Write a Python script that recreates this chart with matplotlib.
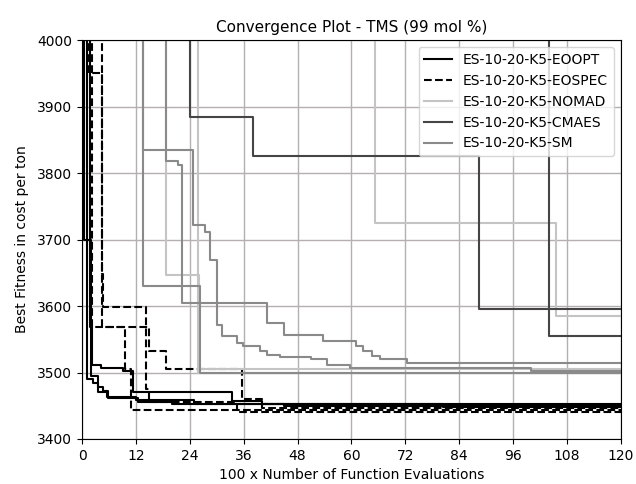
import matplotlib.pyplot as plt

# --- data (x in 100 x evaluations, y in cost per ton); 4100 = off the top ---
eoopt_x = [[0, 1.1, 2.4, 3.6, 4.7, 5.8, 12.5, 20, 80.5, 120],
           [0, 1.8, 2.2, 4.2, 9.1, 11.4, 33.4, 40, 120],
           [0, 0.4, 2.0, 3.5, 5.5, 12, 25, 45, 120]]
eoopt_y = [[4100, 3490, 3484, 3478, 3472, 3462, 3455, 3452, 3448, 3448],
           [4100, 3568, 3512, 3507, 3502, 3470, 3457, 3452, 3452],
           [4100, 3700, 3495, 3470, 3463, 3458, 3453, 3450, 3450]]

eospec_x = [[0, 1.6, 4.4, 4.7, 14.2, 15, 34.5, 120],
            [0, 2.2, 15, 18.7, 35.6, 40, 120],
            [0, 4.4, 9.6, 10.9, 120]]
eospec_y = [[4100, 3950, 3648, 3598, 3475, 3455, 3440, 3440],
            [4100, 3568, 3532, 3505, 3460, 3446, 3446],
            [4100, 3568, 3505, 3444, 3444]]

nomad_x = [[0, 65.3, 105.6, 120],
           [0, 18.7, 26.0, 120],
           [0, 25.8, 120]]
nomad_y = [[4100, 3725, 3585, 3585],
           [4100, 3647, 3505, 3505],
           [4100, 3500, 3500]]

cmaes_x = [[0, 24, 38, 88.5, 120],
           [0, 104, 120]]
cmaes_y = [[4100, 3885, 3825, 3595, 3595],
           [4100, 3555, 3555]]

sm_x = [[0, 13.5, 26.3, 120],
        [0, 13.5, 24.7, 27.4, 28.5, 30, 31.2, 34.5, 35.9, 39.6, 41.2, 44, 51, 54.5, 59.7, 100, 120],
        [0, 18.7, 21.4, 22.3, 41.2, 45, 53.7, 61, 62.5, 64.5, 66.4, 72.4, 120]]
sm_y = [[4100, 3630, 3500, 3500],
        [4100, 3835, 3722, 3712, 3670, 3572, 3555, 3545, 3540, 3532, 3527, 3524, 3520, 3512, 3507, 3502, 3502],
        [4100, 3818, 3812, 3604, 3574, 3557, 3547, 3540, 3533, 3525, 3520, 3515, 3515]]

labels = ['ES-10-20-K5-EOOPT', 'ES-10-20-K5-EOSPEC', 'ES-10-20-K5-NOMAD',
          'ES-10-20-K5-CMAES', 'ES-10-20-K5-SM']

fig = plt.figure(figsize=(6.36, 4.84), dpi=100)
ax = fig.add_axes([0.129, 0.093, 0.847, 0.824])

styles = [(eoopt_x, eoopt_y, 'black', '-'),
          (eospec_x, eospec_y, 'black', '--'),
          (nomad_x, nomad_y, '#c4c4c4', '-'),
          (cmaes_x, cmaes_y, '#454545', '-'),
          (sm_x, sm_y, '#8a8a8a', '-')]

for (xs, ys, col, ls), lab in zip(styles, labels):
    for i, (x, y) in enumerate(zip(xs, ys)):
        ax.plot(x, y, drawstyle='steps-post', color=col, linestyle=ls,
                linewidth=1.5, label=lab if i == 0 else None)

ax.set_xlim(0, 120)
ax.set_ylim(3400, 4000)
ax.set_xticks(range(0, 121, 12))
ax.set_yticks(range(3400, 4001, 100))
ax.grid(True, color='#b5afaf', linewidth=1)
ax.set_axisbelow(True)
ax.tick_params(labelsize=10)

ax.set_title('Convergence Plot - TMS (99 mol %)', fontsize=11)
ax.set_xlabel('100 x Number of Function Evaluations', fontsize=10, labelpad=4)
ax.set_ylabel('Best Fitness in cost per ton', fontsize=10, labelpad=6)
ax.legend(loc='upper right', fontsize=10)

fig.savefig('out.png', dpi=100)
